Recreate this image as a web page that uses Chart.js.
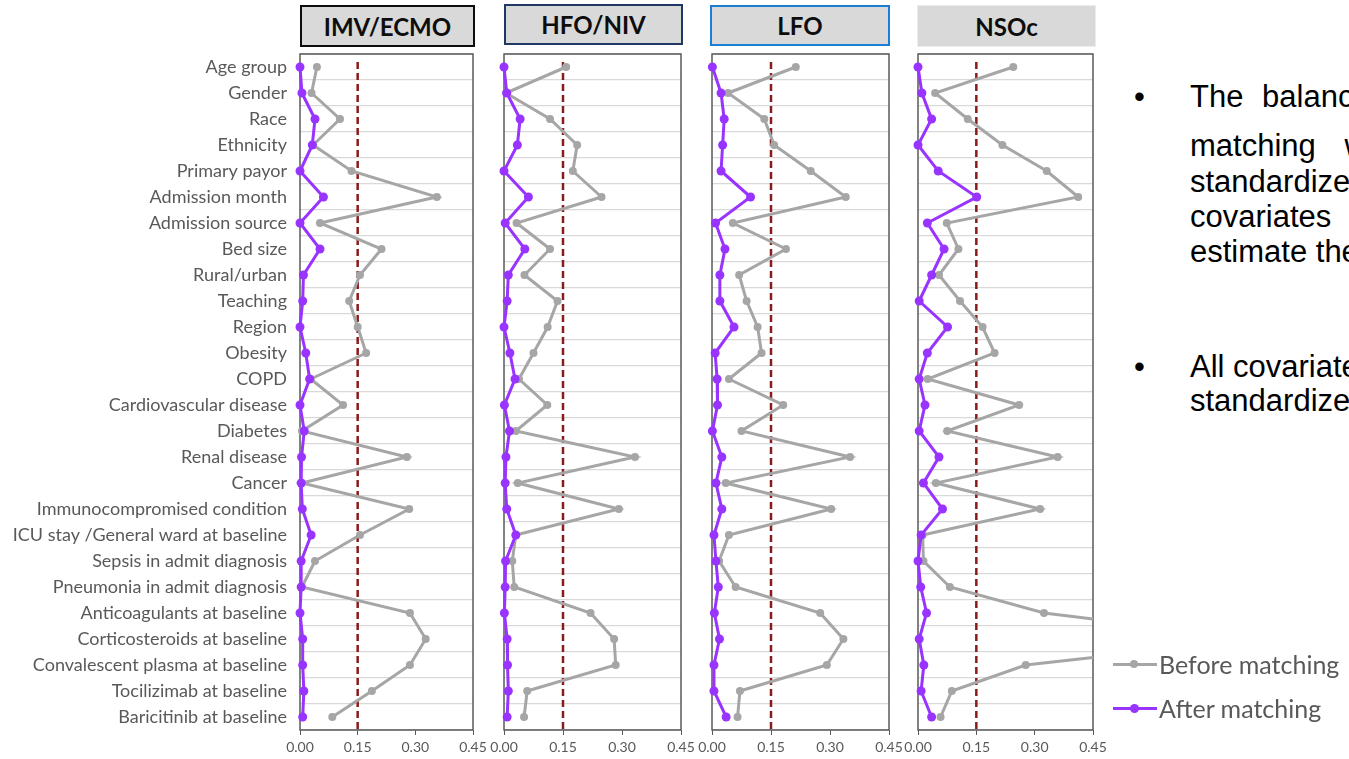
<!DOCTYPE html>
<html>
<head>
<meta charset="utf-8">
<script src="https://cdn.jsdelivr.net/npm/chart.js@4.4.1/dist/chart.umd.min.js"></script>
<style>
    html, body { margin: 0; padding: 0; background: #fff; width: 1349px; height: 759px; overflow: hidden; }
    .panel { position: absolute; top: 0; height: 759px; }
    .title { position: absolute; box-sizing: border-box; background: #d9d9d9; display: flex; align-items: center; justify-content: center; font: bold 24px Lato, sans-serif; color: #0d0d0d; }
    .notes { position: absolute; left: 0; top: 0; width: 1349px; height: 759px; font: 31px "Liberation Sans", Arial, sans-serif; color: #000; }
    .notes div { position: absolute; white-space: nowrap; }
    .legend { position: absolute; left: 1113px; font: 25px Lato, sans-serif; color: #595959; display: flex; align-items: center; white-space: nowrap; }
    .legend .swatch { position: relative; width: 44px; height: 3px; margin-right: 2px; }
    .legend .dot { position: absolute; left: 17px; border-radius: 50%; }
</style>
</head>
<body>
<div class="notes">
    <div style="left:1134px;top:79px;">•</div>
    <div style="left:1190px;top:79px;word-spacing:10px;">The balance</div>
    <div style="left:1190px;top:128px;word-spacing:20px;">matching was</div>
    <div style="left:1190px;top:164px;">standardized</div>
    <div style="left:1190px;top:199px;">covariates</div>
    <div style="left:1190px;top:234px;">estimate the</div>
    <div style="left:1134px;top:349px;">•</div>
    <div style="left:1190px;top:349px;">All covariates</div>
    <div style="left:1190px;top:383px;">standardized</div>
</div>
<div id="panels"></div>
<div id="legend"></div>

<script>
const covariates = [
    'Age group', 'Gender', 'Race', 'Ethnicity', 'Primary payor', 'Admission month',
    'Admission source', 'Bed size', 'Rural/urban', 'Teaching', 'Region', 'Obesity', 'COPD',
    'Cardiovascular disease', 'Diabetes', 'Renal disease', 'Cancer', 'Immunocompromised condition',
    'ICU stay /General ward at baseline', 'Sepsis in admit diagnosis', 'Pneumonia in admit diagnosis',
    'Anticoagulants at baseline', 'Corticosteroids at baseline', 'Convalescent plasma at baseline',
    'Tocilizimab at baseline', 'Baricitinib at baseline'
];
const xTicks = [0, 0.15, 0.30, 0.45];
const threshold = 0.15;
const seriesNames = ['Before matching', 'After matching'];
const panelNames = ['IMV/ECMO', 'HFO/NIV', 'LFO', 'NSOc'];

const imvBefore = [0.044, 0.030, 0.104, 0.034, 0.134, 0.356, 0.052, 0.212, 0.156, 0.128, 0.150, 0.172, 0.028,
    0.112, 0.005, 0.278, 0.005, 0.284, 0.156, 0.039, 0.005, 0.286, 0.327, 0.286, 0.187, 0.084];
const imvAfter = [0.000, 0.005, 0.039, 0.032, 0.000, 0.061, 0.000, 0.052, 0.009, 0.007, 0.000, 0.015, 0.025,
    0.000, 0.011, 0.004, 0.003, 0.006, 0.029, 0.003, 0.003, 0.000, 0.007, 0.007, 0.010, 0.007];

const hfoBefore = [0.158, 0.005, 0.117, 0.186, 0.175, 0.248, 0.032, 0.117, 0.052, 0.136, 0.111, 0.075, 0.038,
    0.110, 0.030, 0.333, 0.035, 0.292, 0.030, 0.021, 0.026, 0.220, 0.280, 0.284, 0.059, 0.051];
const hfoAfter = [0.000, 0.007, 0.041, 0.034, 0.000, 0.062, 0.003, 0.053, 0.011, 0.008, 0.000, 0.015, 0.028,
    0.001, 0.014, 0.005, 0.003, 0.007, 0.030, 0.004, 0.003, 0.001, 0.008, 0.009, 0.011, 0.008];

const lfoBefore = [0.213, 0.041, 0.133, 0.158, 0.251, 0.340, 0.053, 0.188, 0.069, 0.088, 0.116, 0.126, 0.043,
    0.181, 0.075, 0.351, 0.035, 0.303, 0.043, 0.018, 0.060, 0.275, 0.334, 0.292, 0.071, 0.065];
const lfoAfter = [0.001, 0.023, 0.031, 0.027, 0.023, 0.098, 0.009, 0.033, 0.020, 0.020, 0.056, 0.008, 0.013,
    0.014, 0.001, 0.025, 0.010, 0.025, 0.005, 0.010, 0.016, 0.006, 0.019, 0.005, 0.005, 0.036];

const nsocBefore = [0.245, 0.044, 0.128, 0.217, 0.331, 0.412, 0.074, 0.104, 0.054, 0.108, 0.166, 0.197, 0.025,
    0.260, 0.075, 0.359, 0.046, 0.314, 0.012, 0.014, 0.082, 0.324, 0.880, 0.277, 0.087, 0.058];
const nsocAfter = [0.000, 0.010, 0.035, 0.000, 0.052, 0.151, 0.024, 0.067, 0.035, 0.003, 0.076, 0.024, 0.003,
    0.018, 0.003, 0.054, 0.014, 0.063, 0.008, 0.000, 0.007, 0.022, 0.003, 0.015, 0.008, 0.035];

const panelData = [[imvBefore, imvAfter], [hfoBefore, hfoAfter], [lfoBefore, lfoAfter], [nsocBefore, nsocAfter]];

// layout of each small chart: canvas box, plot box and title box
const panelLayout = [
    { left: 0, width: 495, axisWidth: 300, padLeft: 0, showLabels: true,
      title: { left: 300, top: 5, width: 175, height: 42, border: '2px solid #0d0d0d' } },
    { left: 484, width: 219, axisWidth: 0, padLeft: 20, showLabels: false,
      title: { left: 504, top: 4, width: 179, height: 41, border: '2px solid #1f3864' } },
    { left: 692, width: 219, axisWidth: 0, padLeft: 20, showLabels: false,
      title: { left: 710, top: 5, width: 180, height: 41, border: '2px solid #1a7fd4' } },
    { left: 898, width: 217, axisWidth: 0, padLeft: 20, showLabels: false,
      title: { left: 917, top: 5, width: 179, height: 42, border: '1px solid #ececec' } }
];

const beforeColor = '#a6a6a6';
const afterColor = '#9933ff';
const textColor = '#595959';

// frame round the plot area and the dashed 0.15 line
const framePlugin = {
    id: 'frameAndThreshold',
    beforeDatasetsDraw(chart) {
        const { ctx, chartArea, scales } = chart;
        ctx.save();
        ctx.strokeStyle = '#595959';
        ctx.lineWidth = 1.5;
        ctx.strokeRect(chartArea.left, chartArea.top, chartArea.right - chartArea.left, chartArea.bottom - chartArea.top);
        const x = scales.x.getPixelForValue(threshold);
        ctx.strokeStyle = '#8b1a1a';
        ctx.lineWidth = 2.5;
        ctx.setLineDash([7, 4]);
        ctx.beginPath();
        ctx.moveTo(x, chartArea.top + 8);
        ctx.lineTo(x, chartArea.bottom);
        ctx.stroke();
        ctx.restore();
    }
};

const panelsDiv = document.getElementById('panels');

panelNames.forEach((name, i) => {
    const lay = panelLayout[i];

    const t = document.createElement('div');
    t.className = 'title';
    t.textContent = name;
    t.style.left = lay.title.left + 'px';
    t.style.top = lay.title.top + 'px';
    t.style.width = lay.title.width + 'px';
    t.style.height = lay.title.height + 'px';
    t.style.border = lay.title.border;
    panelsDiv.appendChild(t);

    const box = document.createElement('div');
    box.className = 'panel';
    box.style.left = lay.left + 'px';
    box.style.width = lay.width + 'px';
    const canvas = document.createElement('canvas');
    box.appendChild(canvas);
    panelsDiv.appendChild(box);

    new Chart(canvas.getContext('2d'), {
        type: 'line',
        data: {
            labels: covariates,
            datasets: [
                {
                    label: seriesNames[0],
                    data: panelData[i][0],
                    borderColor: beforeColor,
                    backgroundColor: beforeColor,
                    borderWidth: 3,
                    pointRadius: 4,
                    pointBorderWidth: 0,
                    tension: 0,
                    order: 2,
                    clip: { left: 8, top: 8, right: 0, bottom: 8 }
                },
                {
                    label: seriesNames[1],
                    data: panelData[i][1],
                    borderColor: afterColor,
                    backgroundColor: afterColor,
                    borderWidth: 3,
                    pointRadius: 4.5,
                    pointBorderWidth: 0,
                    tension: 0,
                    order: 1,
                    clip: { left: 8, top: 8, right: 0, bottom: 8 }
                }
            ]
        },
        options: {
            indexAxis: 'y',
            responsive: true,
            maintainAspectRatio: false,
            animation: false,
            events: [],
            layout: { padding: { top: 54, left: lay.padLeft, right: 22, bottom: 0 } },
            plugins: {
                legend: { display: false },
                tooltip: { enabled: false }
            },
            scales: {
                x: {
                    type: 'linear',
                    min: 0,
                    max: 0.45,
                    afterBuildTicks: s => { s.ticks = xTicks.map(v => ({ value: v })); },
                    afterFit: s => { s.height = 29; },
                    border: { display: false },
                    grid: { drawOnChartArea: false, color: '#595959', tickLength: 5 },
                    ticks: {
                        color: textColor,
                        font: { family: 'Lato', size: 14 },
                        padding: 4,
                        maxRotation: 0,
                        callback: v => v.toFixed(2)
                    }
                },
                y: {
                    type: 'category',
                    offset: true,
                    afterFit: s => { s.width = lay.axisWidth; },
                    border: { display: false },
                    grid: { offset: true, color: '#d9d9d9', lineWidth: 1.2, drawTicks: false },
                    ticks: {
                        display: lay.showLabels,
                        color: textColor,
                        font: { family: 'Lato', size: 18 },
                        padding: 13,
                        autoSkip: false
                    }
                }
            }
        },
        plugins: [framePlugin]
    });
});

// legend at the lower right
const legendDiv = document.getElementById('legend');
[[seriesNames[0], beforeColor, 664, 8], [seriesNames[1], afterColor, 708, 9]].forEach(([label, color, y, dot]) => {
    const item = document.createElement('div');
    item.className = 'legend';
    item.style.top = (y - 15) + 'px';
    item.style.height = '30px';
    item.innerHTML = '<span class="swatch" style="background:' + color + '"><span class="dot" style="background:' + color +
        ';width:' + dot + 'px;height:' + dot + 'px;top:' + (1.5 - dot / 2) + 'px"></span></span>' + label;
    legendDiv.appendChild(item);
});
</script>
</body>
</html>
